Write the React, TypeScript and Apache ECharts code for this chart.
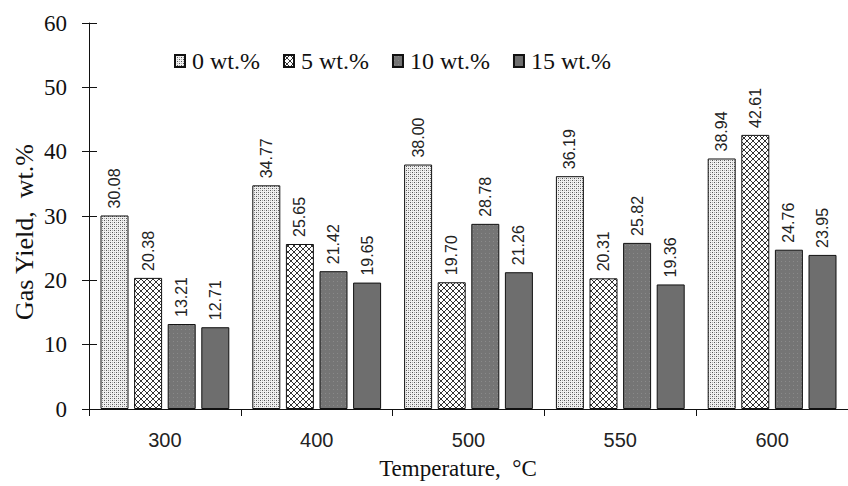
import React, { useEffect, useRef } from "react";
import * as echarts from "echarts";

const categories = ["300", "400", "500", "550", "600"];
const seriesNames = ["0 wt.%", "5 wt.%", "10 wt.%", "15 wt.%"];
const s0 = [30.08, 34.77, 38.0, 36.19, 38.94];
const s5 = [20.38, 25.65, 19.7, 20.31, 42.61];
const s10 = [13.21, 21.42, 28.78, 25.82, 24.76];
const s15 = [12.71, 19.65, 21.26, 19.36, 23.95];
const xTitle = "Temperature,  °C";
const yTitle = "Gas Yield,  wt.%";

function makePattern(kind: number): any {
  const c = document.createElement("canvas");
  const size = kind === 1 ? 6 : 4;
  c.width = size;
  c.height = size;
  const ctx = c.getContext("2d")!;
  if (kind === 0) {
    ctx.fillStyle = "#f0f0f0";
    ctx.fillRect(0, 0, size, size);
    ctx.fillStyle = "#555";
    ctx.fillRect(0, 0, 1, 1);
    ctx.fillRect(2, 2, 1, 1);
    ctx.fillStyle = "#aaa";
    ctx.fillRect(2, 0, 1, 1);
    ctx.fillRect(0, 2, 1, 1);
  } else if (kind === 1) {
    ctx.fillStyle = "#ffffff";
    ctx.fillRect(0, 0, size, size);
    ctx.strokeStyle = "#333";
    ctx.lineWidth = 1;
    ctx.beginPath();
    ctx.moveTo(0, 0);
    ctx.lineTo(6, 6);
    ctx.moveTo(6, 0);
    ctx.lineTo(0, 6);
    ctx.stroke();
  } else {
    ctx.fillStyle = "#757575";
    ctx.fillRect(0, 0, size, size);
    ctx.fillStyle = "#8a8a8a";
    ctx.fillRect(1, 1, 1, 1);
  }
  return { image: c, repeat: "repeat" };
}

export default function App() {
  const ref = useRef<HTMLDivElement>(null);
  useEffect(() => {
    if (!ref.current) return;
    const chart = echarts.init(ref.current, undefined, { renderer: "svg" });
    const colors = [makePattern(0), makePattern(1), makePattern(2), "#6e6e6e"];
    const data = [s0, s5, s10, s15];
    const serif = "Liberation Serif";
    chart.setOption({
      animation: false,
      backgroundColor: "#ffffff",
      legend: {
        top: 44,
        left: 169,
        itemWidth: 10,
        itemHeight: 12,
        itemGap: 23,
        icon: "rect",
        textStyle: { fontFamily: serif, fontSize: 24, color: "#111", padding: [0, 0, 0, 2] },
        data: seriesNames,
      },
      grid: { left: 89, right: -11, top: 23, bottom: 77 },
      xAxis: {
        type: "category",
        data: categories,
        axisLine: { lineStyle: { color: "#111", width: 1 } },
        axisTick: { show: true, length: 7, lineStyle: { color: "#111" } },
        axisLabel: { fontFamily: "Liberation Sans", fontSize: 20, color: "#222", margin: 21 },
      },
      yAxis: [
        {
          type: "value",
          min: 0,
          max: 60,
          interval: 10,
          axisLine: { show: true, lineStyle: { color: "#111" } },
          axisTick: { show: true, length: 7, lineStyle: { color: "#111" } },
          splitLine: { show: false },
          axisLabel: { fontFamily: serif, fontSize: 23, color: "#111", margin: 22 },
        },
        {
          type: "value",
          position: "left",
          min: 0,
          max: 60,
          interval: 10,
          axisLine: { show: false },
          axisTick: { show: true, inside: true, length: 8, lineStyle: { color: "#111" } },
          splitLine: { show: false },
          axisLabel: { show: false },
        },
      ],
      graphic: [
        {
          type: "text",
          x: 458,
          y: 468,
          style: {
            text: xTitle,
            font: "23px 'Liberation Serif'",
            fill: "#111",
            align: "center",
            verticalAlign: "middle",
          },
        },
        {
          type: "text",
          x: 24,
          y: 232,
          rotation: Math.PI / 2,
          style: {
            text: yTitle,
            font: "26px 'Liberation Serif'",
            fill: "#111",
            align: "center",
            verticalAlign: "middle",
          },
        },
      ],
      series: seriesNames.map((name, i) => ({
        name,
        type: "bar",
        data: data[i],
        barWidth: 28,
        barGap: "20%",
        itemStyle: { color: colors[i], borderColor: "#111", borderWidth: 1 },
        label: {
          show: true,
          position: "top",
          rotate: 90,
          align: "left",
          verticalAlign: "middle",
          distance: 7,
          fontFamily: "Liberation Sans",
          fontSize: 16,
          color: "#222",
          formatter: (p: any) => p.value.toFixed(2),
        },
      })),
    });
    return () => chart.dispose();
  }, []);
  return (
    <div
      ref={ref}
      style={{ position: "absolute", left: 0, top: 0, width: 848, height: 486 }}
    />
  );
}
